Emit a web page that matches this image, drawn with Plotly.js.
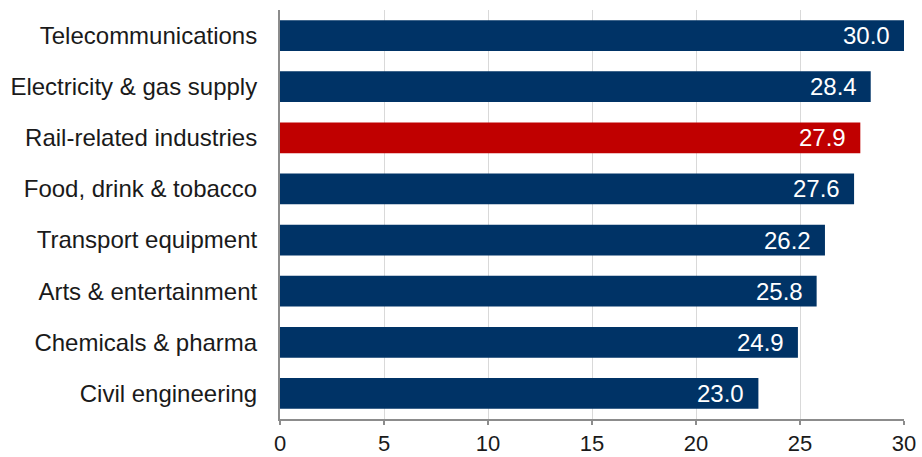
<!DOCTYPE html>
<html>
<head>
<meta charset="utf-8">
<script src="https://cdn.plot.ly/plotly-3.0.1.min.js"></script>
<style>
  html, body { margin: 0; padding: 0; background: #fff; }
  #chart { width: 922px; height: 457px; }
</style>
</head>
<body>
<div id="chart"></div>
<script>
// Sectors, listed bottom to top as Plotly draws category axes
const sectors = [
  "Civil engineering",
  "Chemicals & pharma",
  "Arts & entertainment",
  "Transport equipment",
  "Food, drink & tobacco",
  "Rail-related industries",
  "Electricity & gas supply",
  "Telecommunications"
];
const values = [23.0, 24.9, 25.8, 26.2, 27.6, 27.9, 28.4, 30.0];
const highlight = "Rail-related industries";
const xTicks = [0, 5, 10, 15, 20, 25, 30];

const navy = "#003366";
const red = "#C00000";
const colors = sectors.map(s => s === highlight ? red : navy);
const fontFamily = "Liberation Sans, Arial, sans-serif";
const fontSize = 24;

const trace = {
  type: "bar",
  orientation: "h",
  y: sectors,
  x: values,
  width: 0.6,
  marker: { color: colors, line: { width: 0 } },
  hoverinfo: "skip"
};

// value labels sit inside the bar end
const labels = sectors.map((s, i) => ({
  x: values[i],
  y: s,
  xref: "x",
  yref: "y",
  text: values[i].toFixed(1),
  showarrow: false,
  xanchor: "right",
  yanchor: "middle",
  xshift: -12,
  font: { family: fontFamily, size: fontSize, color: "#ffffff" }
}));

const layout = {
  width: 922,
  height: 457,
  margin: { l: 280, r: 18, t: 10, b: 38 },
  paper_bgcolor: "#ffffff",
  plot_bgcolor: "#ffffff",
  showlegend: false,
  font: { family: fontFamily, size: fontSize, color: "#1a1a1a" },
  xaxis: {
    range: [0, 30],
    tickvals: xTicks,
    ticktext: xTicks.map(String),
    showgrid: true,
    gridcolor: "#d9d9d9",
    gridwidth: 1,
    zeroline: false,
    showline: true,
    linecolor: "#8c8c8c",
    linewidth: 2,
    ticks: "outside",
    ticklen: 4,
    tickwidth: 2,
    tickcolor: "#8c8c8c",
    tickfont: { size: 22, color: "#1a1a1a" },
    fixedrange: true
  },
  yaxis: {
    type: "category",
    categoryorder: "array",
    categoryarray: sectors,
    showgrid: false,
    zeroline: false,
    showline: true,
    linecolor: "#8c8c8c",
    linewidth: 2,
    ticks: "",
    ticklabelstandoff: 16,
    tickfont: { size: fontSize, color: "#1a1a1a" },
    fixedrange: true
  },
  annotations: labels
};

Plotly.newPlot("chart", [trace], layout, { displayModeBar: false, staticPlot: true });
</script>
</body>
</html>
